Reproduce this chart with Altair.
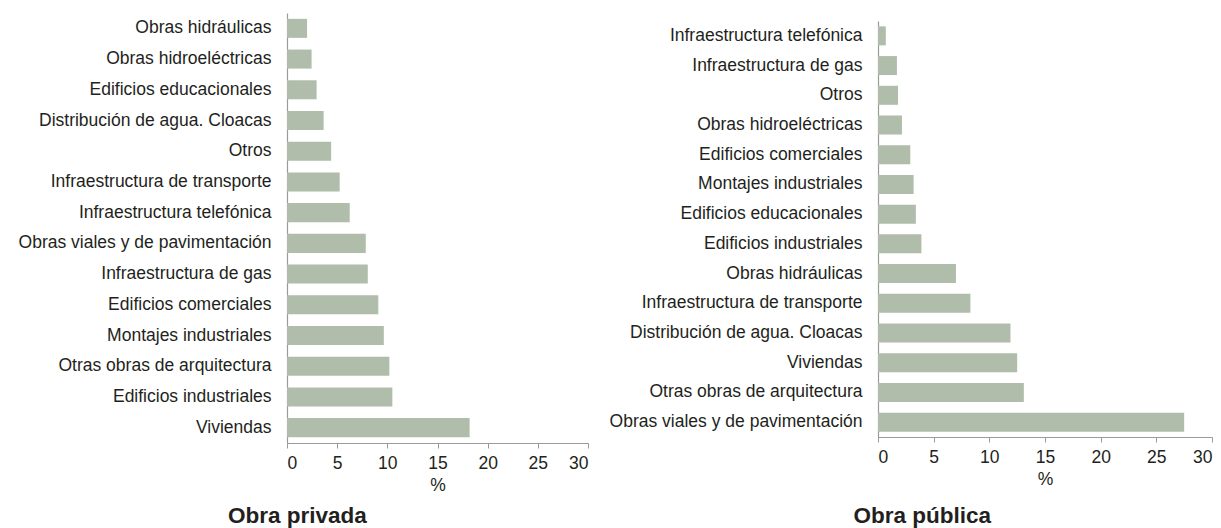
import altair as alt
import pandas as pd

cats_priv = ["Obras hidráulicas", "Obras hidroeléctricas", "Edificios educacionales",
             "Distribución de agua. Cloacas", "Otros", "Infraestructura de transporte",
             "Infraestructura telefónica", "Obras viales y de pavimentación",
             "Infraestructura de gas", "Edificios comerciales", "Montajes industriales",
             "Otras obras de arquitectura", "Edificios industriales", "Viviendas"]
vals_priv = [2.0, 2.45, 2.95, 3.65, 4.4, 5.25, 6.25, 7.85, 8.05, 9.1, 9.65, 10.2, 10.5, 18.2]

cats_pub = ["Infraestructura telefónica", "Infraestructura de gas", "Otros",
            "Obras hidroeléctricas", "Edificios comerciales", "Montajes industriales",
            "Edificios educacionales", "Edificios industriales", "Obras hidráulicas",
            "Infraestructura de transporte", "Distribución de agua. Cloacas", "Viviendas",
            "Otras obras de arquitectura", "Obras viales y de pavimentación"]
vals_pub = [0.7, 1.7, 1.8, 2.15, 2.9, 3.2, 3.4, 3.9, 7.0, 8.3, 11.9, 12.5, 13.1, 27.5]

x_ticks = [0, 5, 10, 15, 20, 25, 30]

FONT = "Liberation Sans"
BAR = "#b0bdab"
TXT = "#231f20"


def panel(cats, vals, title, w, h, pin, y_range, t_offset, t_dx):
    df = pd.DataFrame({"cat": cats, "val": vals})
    return alt.Chart(df).mark_bar(color=BAR).encode(
        x=alt.X("val:Q",
                scale=alt.Scale(domain=[0, 30], nice=False),
                axis=alt.Axis(title="%", values=x_ticks, grid=False, tickSize=5,
                              labelPadding=6, titlePadding=5)),
        y=alt.Y("cat:N", sort=cats,
                scale=alt.Scale(paddingInner=pin, paddingOuter=pin / 2, range=y_range),
                axis=alt.Axis(title=None, ticks=False, labelPadding=16, grid=False,
                              labelLimit=400)),
    ).properties(
        width=w, height=h,
        title=alt.TitleParams(title, orient="bottom", offset=t_offset, dx=t_dx,
                              fontSize=22.5, fontWeight="bold", font=FONT, color=TXT,
                              anchor="middle", frame="bounds"))


left = panel(cats_priv, vals_priv, "Obra privada", 301, 430, 0.38, [0, 430], 11, -6)
right = panel(cats_pub, vals_pub, "Obra pública", 334, 424, 0.36, [8, 424], 17, 11.5)

chart = alt.hconcat(left, right, spacing=20).properties(
    padding={"left": 10, "top": 5, "right": 0, "bottom": 0}
).configure_view(stroke=None).configure_axis(
    labelFont=FONT, labelFontSize=17.5, labelColor=TXT,
    titleFont=FONT, titleFontSize=17.5, titleFontWeight="normal", titleColor=TXT,
    domainColor="#9a9a9a", tickColor="#9a9a9a", domainWidth=1.2
)

chart.save("out.html", embed_options={"renderer": "svg", "actions": False})
